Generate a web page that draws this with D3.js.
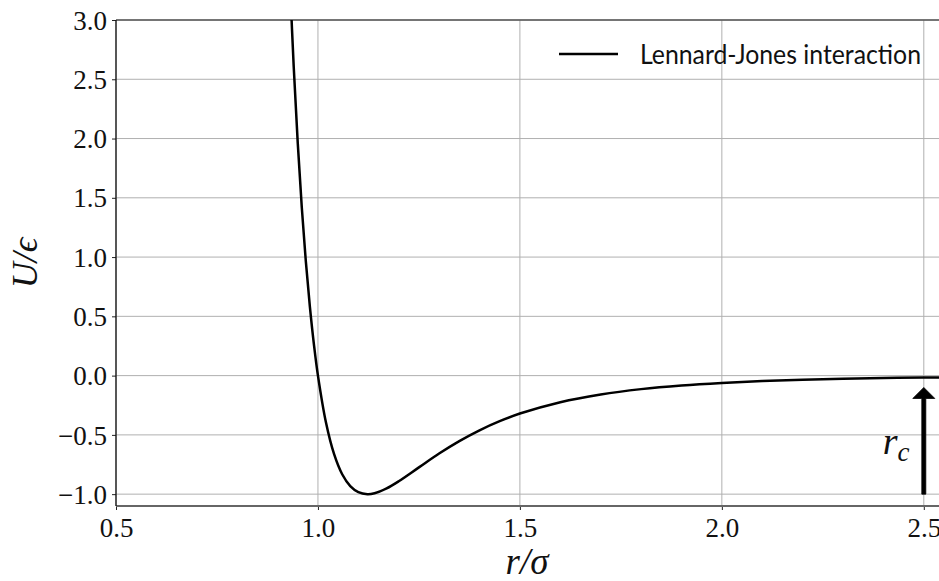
<!DOCTYPE html>
<html>
<head>
<meta charset="utf-8">
<script src="https://cdn.jsdelivr.net/npm/d3@7"></script>
<style>
  html, body { margin: 0; padding: 0; background: #fff; }
  svg { display: block; }
  svg text.serif, svg .serif text { font-family: "Liberation Serif", serif !important; }
  svg text.sans { font-family: Lato, sans-serif !important; }
</style>
</head>
<body>
<svg id="chart" width="939" height="581"></svg>
<script>
// Lennard-Jones pair potential, reduced units (r/sigma, U/epsilon)
const rValues = [0.93, 0.94, 0.95, 0.96, 0.97, 0.98, 0.99, 1.00, 1.02, 1.04, 1.06, 1.08, 1.10, 1.1225,
                 1.14, 1.17, 1.20, 1.25, 1.30, 1.35, 1.40, 1.45, 1.50, 1.60, 1.70, 1.80, 1.90, 2.00,
                 2.10, 2.20, 2.30, 2.40, 2.50, 2.55];
const uValues = [3.373, 2.606, 1.961, 1.418, 0.963, 0.582, 0.264, 0.000, -0.398, -0.663, -0.832, -0.932, -0.983, -1.000,
                 -0.992, -0.951, -0.891, -0.774, -0.657, -0.552, -0.461, -0.384, -0.320, -0.224, -0.159, -0.114, -0.083, -0.0615,
                 -0.0461, -0.0350, -0.0268, -0.0208, -0.0163, -0.0145];
const xTicks = [0.5, 1.0, 1.5, 2.0, 2.5];
const yTicks = [-1.0, -0.5, 0.0, 0.5, 1.0, 1.5, 2.0, 2.5, 3.0];
const xDomain = [0.5, 2.55];
const yDomain = [-1.1, 3.0];
const cutoff = 2.5;          // r_c marker position
const cutoffArrow = [-1.0, -0.1];
const legendLabel = "Lennard-Jones interaction";

const SERIF = "Liberation Serif";
const SANS = "Lato";

const svg = d3.select("#chart");
const plotL = 116, plotT = 20, plotR = 944, plotB = 506;

const x = d3.scaleLinear().domain(xDomain).range([plotL, plotR]);
const y = d3.scaleLinear().domain(yDomain).range([plotB, plotT]);

const fmt = v => (v < 0 ? "\u2212" : "") + Math.abs(v).toFixed(1);

// clip region for the plot area
svg.append("defs").append("clipPath").attr("id", "plot-clip")
  .append("rect").attr("x", plotL).attr("y", plotT)
  .attr("width", plotR - plotL).attr("height", plotB - plotT);

// grid
const grid = svg.append("g").attr("stroke", "#b0b0b0").attr("stroke-width", 1);
grid.selectAll("line.gx").data(xTicks).join("line").attr("class", "gx")
  .attr("x1", d => x(d)).attr("x2", d => x(d))
  .attr("y1", plotT).attr("y2", plotB);
grid.selectAll("line.gy").data(yTicks).join("line").attr("class", "gy")
  .attr("x1", plotL).attr("x2", plotR)
  .attr("y1", d => y(d)).attr("y2", d => y(d));

// axes
const xAxis = d3.axisBottom(x).tickValues(xTicks).tickFormat(fmt).tickSize(4).tickPadding(6);
const yAxis = d3.axisLeft(y).tickValues(yTicks).tickFormat(fmt).tickSize(4).tickPadding(5);

const gx = svg.append("g").attr("transform", `translate(0,${plotB})`).call(xAxis);
const gy = svg.append("g").attr("transform", `translate(${plotL},0)`).call(yAxis);
[gx, gy].forEach(g => {
  g.attr("font-family", SERIF).attr("font-size", 27).classed("serif", true);
  g.select(".domain").remove();
  g.selectAll(".tick line").attr("stroke", "#222").attr("stroke-width", 1);
  g.selectAll(".tick text").attr("fill", "#111")
    .style("font-family", SERIF, "important");
});
gx.selectAll(".tick text").attr("dy", "0.78em");
gy.selectAll(".tick text").attr("dy", "0.34em");

// spines
svg.append("line").attr("x1", plotL).attr("x2", plotR).attr("y1", plotT).attr("y2", plotT)
  .attr("stroke", "#555").attr("stroke-width", 1.5);
svg.append("line").attr("x1", plotL).attr("x2", plotR).attr("y1", plotB).attr("y2", plotB)
  .attr("stroke", "#666").attr("stroke-width", 1.8);
svg.append("line").attr("x1", plotL).attr("x2", plotL).attr("y1", plotT).attr("y2", plotB)
  .attr("stroke", "#111").attr("stroke-width", 1.3);
svg.append("line").attr("x1", plotR).attr("x2", plotR).attr("y1", plotT).attr("y2", plotB)
  .attr("stroke", "#555").attr("stroke-width", 1.5);

// potential curve
const pts = rValues.map((r, i) => [r, uValues[i]]);
svg.append("path")
  .attr("clip-path", "url(#plot-clip)")
  .attr("d", d3.line().x(d => x(d[0])).y(d => y(d[1])).curve(d3.curveCatmullRom.alpha(0.5))(pts))
  .attr("fill", "none").attr("stroke", "#000").attr("stroke-width", 2.5);

// cutoff arrow
const ax = x(cutoff), ay0 = y(cutoffArrow[0]), ay1 = y(cutoffArrow[1]);
const headH = 11, headW = 11, shaftW = 2;
svg.append("path")
  .attr("d", `M${ax - shaftW},${ay0} L${ax - shaftW},${ay1 + headH} L${ax - headW},${ay1 + headH}
              L${ax},${ay1} L${ax + headW},${ay1 + headH} L${ax + shaftW},${ay1 + headH} L${ax + shaftW},${ay0} Z`)
  .attr("fill", "#000").attr("stroke", "#000").attr("stroke-width", 0.8);

// r_c label
const rc = svg.append("text").attr("class", "serif")
  .attr("x", ax - 41).attr("y", y(-0.6) + 7)
  .attr("font-family", SERIF).style("font-family", SERIF, "important")
  .attr("font-style", "italic").attr("font-size", 38).attr("fill", "#111");
rc.append("tspan").text("r");
rc.append("tspan").attr("font-size", 27).attr("dy", 7).text("c");

// axis titles
svg.append("text").attr("class", "serif")
  .attr("x", (plotL + plotR) / 2 - 3).attr("y", 574)
  .attr("text-anchor", "middle")
  .attr("font-family", SERIF).style("font-family", SERIF, "important")
  .attr("font-style", "italic").attr("font-size", 37).attr("fill", "#111")
  .text("r/\u03C3");
svg.append("text").attr("class", "serif")
  .attr("transform", `translate(37,${(plotT + plotB) / 2}) rotate(-90)`)
  .attr("text-anchor", "middle")
  .attr("font-family", SERIF).style("font-family", SERIF, "important")
  .attr("font-style", "italic").attr("font-size", 36).attr("fill", "#111")
  .text("U/\u03F5");

// legend
svg.append("line").attr("x1", 559).attr("x2", 618).attr("y1", 54).attr("y2", 54)
  .attr("stroke", "#000").attr("stroke-width", 2.5);
svg.append("text").attr("class", "sans")
  .attr("x", 640).attr("y", 64)
  .attr("font-family", SANS)
  .attr("font-size", 26).attr("fill", "#111")
  .attr("textLength", 281).attr("lengthAdjust", "spacingAndGlyphs")
  .text(legendLabel);
</script>
</body>
</html>
